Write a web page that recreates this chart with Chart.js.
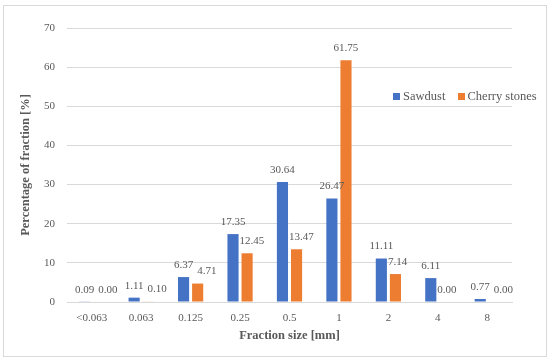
<!DOCTYPE html>
<html lang="en">
<head>
    <meta charset="UTF-8">
    <title>Fraction size distribution</title>
    <script src="https://cdn.jsdelivr.net/npm/chart.js"></script>
    <style>
        body { margin: 0; background: #fff; }
        .frame {
            position: relative;
            width: 550px;
            height: 362px;
        }
        .border {
            position: absolute;
            left: 3px; top: 5px;
            width: 542px; height: 350px;
            border: 1px solid #d9d9d9;
        }
        .legend {
            position: absolute;
            left: 393px; top: 89px;
            font: 12.5px "Liberation Serif", serif;
            color: #595959;
            white-space: nowrap;
        }
        .legend span.box {
            display: inline-block;
            width: 7px; height: 7px;
            margin-right: 3px;
        }
        .legend .item { margin-right: 9px; }
    </style>
</head>
<body>
    <div class="frame">
        <div class="border"></div>
        <canvas id="barChart" width="550" height="362"></canvas>
        <div class="legend">
            <span class="item"><span class="box" style="background:#4472C4"></span>Sawdust</span>
            <span class="item"><span class="box" style="background:#ED7D31"></span>Cherry stones</span>
        </div>
    </div>

    <script>
        const fractions = ['<0.063', '0.063', '0.125', '0.25', '0.5', '1', '2', '4', '8'];
        const sawdust = [0.09, 1.11, 6.37, 17.35, 30.64, 26.47, 11.11, 6.11, 0.77];
        const cherryStones = [0.00, 0.10, 4.71, 12.45, 13.47, 61.75, 7.14, 0.00, 0.00];
        const yTicks = [0, 10, 20, 30, 40, 50, 60, 70];

        const fontFamily = '"Liberation Serif", serif';
        const grey = '#595959';

        // value labels above each bar; the second label moves right if it hits
        // the first label or the neighbouring bar
        const valueLabels = {
            id: 'valueLabels',
            afterDatasetsDraw(chart) {
                const ctx = chart.ctx;
                ctx.save();
                ctx.font = '11px ' + fontFamily;
                ctx.fillStyle = grey;
                ctx.textAlign = 'center';
                ctx.textBaseline = 'middle';
                const metaA = chart.getDatasetMeta(0).data;
                const metaB = chart.getDatasetMeta(1).data;
                const dsA = chart.data.datasets[0].data;
                const dsB = chart.data.datasets[1].data;
                metaA.forEach((barA, j) => {
                    const barB = metaB[j];
                    const tA = dsA[j].toFixed(2), tB = dsB[j].toFixed(2);
                    const wA = ctx.measureText(tA).width, wB = ctx.measureText(tB).width;
                    const yA = barA.y - 12, yB = barB.y - 12;
                    let xB = barB.x;
                    if (Math.abs(yA - yB) < 13) {
                        xB = Math.max(xB, barA.x + wA / 2 + 4 + wB / 2);
                    }
                    if (yB + 6 > barA.y) {
                        xB = Math.max(xB, barA.x + barA.width / 2 + 1 + wB / 2);
                    }
                    ctx.fillText(tA, barA.x, yA);
                    ctx.fillText(tB, xB, yB);
                });
                ctx.restore();
            }
        };

        var barChart = new Chart(document.getElementById('barChart'), {
            type: 'bar',
            data: {
                labels: fractions,
                datasets: [{
                    label: 'Sawdust',
                    data: sawdust,
                    backgroundColor: '#4472C4',
                    barPercentage: 0.79,
                    categoryPercentage: 0.57
                }, {
                    label: 'Cherry stones',
                    data: cherryStones,
                    backgroundColor: '#ED7D31',
                    barPercentage: 0.79,
                    categoryPercentage: 0.57
                }]
            },
            options: {
                responsive: false,
                animation: false,
                layout: { padding: { left: 12, right: 38, top: 28, bottom: 14 } },
                plugins: {
                    legend: { display: false },
                    tooltip: { enabled: false }
                },
                scales: {
                    x: {
                        grid: { display: false, drawTicks: false },
                        border: { display: true, color: '#d9d9d9' },
                        ticks: { color: grey, font: { family: fontFamily, size: 11 }, padding: 10 },
                        title: {
                            display: true,
                            text: 'Fraction size [mm]',
                            color: grey,
                            font: { family: fontFamily, size: 12.5, weight: 'bold' },
                            padding: { top: 0, bottom: 5 }
                        },
                        afterFit(scale) { scale.height = 46; }
                    },
                    y: {
                        min: 0,
                        max: 70,
                        afterBuildTicks(scale) { scale.ticks = yTicks.map(v => ({ value: v })); },
                        grid: { color: '#d9d9d9', drawTicks: false },
                        border: { display: false },
                        ticks: { color: grey, font: { family: fontFamily, size: 11 }, padding: 12 },
                        title: {
                            display: true,
                            text: 'Percentage of fraction [%]',
                            color: grey,
                            font: { family: fontFamily, size: 12.5, weight: 'bold' },
                            padding: { top: 6, bottom: 0 }
                        },
                        afterFit(scale) { scale.width = 55; }
                    }
                }
            },
            plugins: [valueLabels]
        });
    </script>
</body>
</html>
